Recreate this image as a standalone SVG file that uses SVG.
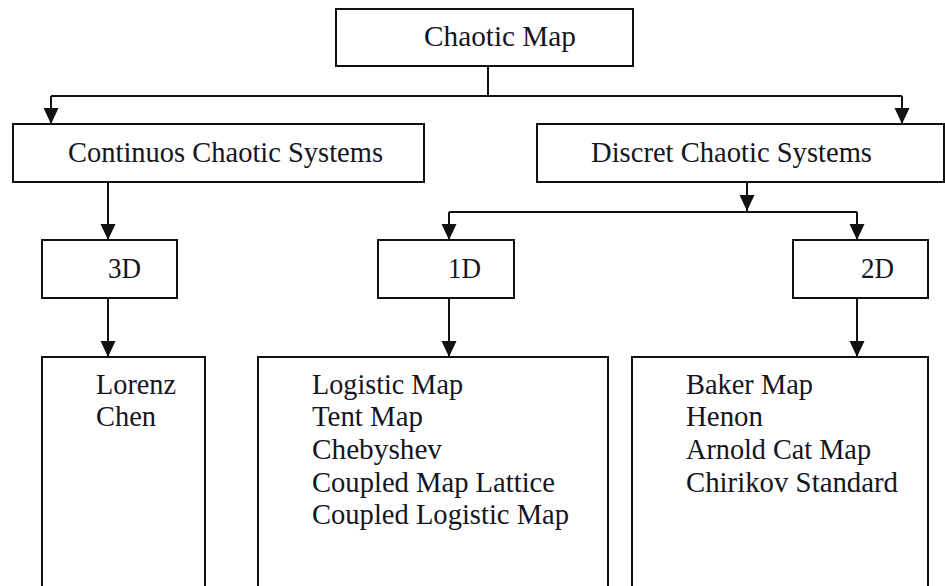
<svg xmlns="http://www.w3.org/2000/svg" width="945" height="586" viewBox="0 0 945 586">
<defs>
<style>
.box{fill:#fff;stroke:#111;stroke-width:2}
.ln{fill:none;stroke:#111;stroke-width:2}
.t{font-family:"Liberation Serif","Times New Roman",serif;font-size:29px;fill:#15151f}
</style>
<marker id="ah" markerUnits="userSpaceOnUse" markerWidth="17" markerHeight="17" viewBox="0 0 17 17" refX="16" refY="8.5" orient="auto">
<path d="M0,1 L16,8.5 L0,16 Z" fill="#111"/>
</marker>
</defs>
<rect width="945" height="586" fill="#fff"/>
<g id="connectors">
<path class="ln" d="M488,66 V96"/>
<path class="ln" d="M51,96 H902"/>
<path class="ln" d="M51,96 V124" marker-end="url(#ah)"/>
<path class="ln" d="M902,96 V124" marker-end="url(#ah)"/>
<path class="ln" d="M108,182 V240" marker-end="url(#ah)"/>
<path class="ln" d="M747,182 V211" marker-end="url(#ah)"/>
<path class="ln" d="M449,212 H857"/>
<path class="ln" d="M449,212 V240" marker-end="url(#ah)"/>
<path class="ln" d="M857,212 V240" marker-end="url(#ah)"/>
<path class="ln" d="M108,298 V357" marker-end="url(#ah)"/>
<path class="ln" d="M449,298 V357" marker-end="url(#ah)"/>
<path class="ln" d="M857,298 V357" marker-end="url(#ah)"/>
</g>
<g id="chaotic-map">
<rect class="box" x="336" y="9" width="297" height="57"/>
<text class="t" x="424" y="46" textLength="152" lengthAdjust="spacingAndGlyphs">Chaotic Map</text>
</g>
<g id="continuous">
<rect class="box" x="13" y="124" width="411" height="58"/>
<text class="t" x="68" y="162" textLength="315" lengthAdjust="spacingAndGlyphs">Continuos Chaotic Systems</text>
</g>
<g id="discrete">
<rect class="box" x="537" y="124" width="407" height="58"/>
<text class="t" x="591" y="162" textLength="281" lengthAdjust="spacingAndGlyphs">Discret Chaotic Systems</text>
</g>
<g id="n3d">
<rect class="box" x="42" y="240" width="135" height="58"/>
<text class="t" x="108" y="278" textLength="33" lengthAdjust="spacingAndGlyphs">3D</text>
</g>
<g id="n1d">
<rect class="box" x="378" y="240" width="136" height="58"/>
<text class="t" x="448" y="278" textLength="33" lengthAdjust="spacingAndGlyphs">1D</text>
</g>
<g id="n2d">
<rect class="box" x="793" y="240" width="135" height="58"/>
<text class="t" x="861" y="278" textLength="33" lengthAdjust="spacingAndGlyphs">2D</text>
</g>
<g id="list3d">
<rect class="box" x="42" y="357" width="163" height="240"/>
<text class="t" x="96" y="394" textLength="80" lengthAdjust="spacingAndGlyphs">Lorenz</text>
<text class="t" x="96" y="426" textLength="60" lengthAdjust="spacingAndGlyphs">Chen</text>
</g>
<g id="list1d">
<rect class="box" x="258" y="357" width="350" height="240"/>
<text class="t" x="312" y="394" textLength="151" lengthAdjust="spacingAndGlyphs">Logistic Map</text>
<text class="t" x="312" y="426" textLength="111" lengthAdjust="spacingAndGlyphs">Tent Map</text>
<text class="t" x="312" y="459" textLength="130" lengthAdjust="spacingAndGlyphs">Chebyshev</text>
<text class="t" x="312" y="492" textLength="243" lengthAdjust="spacingAndGlyphs">Coupled Map Lattice</text>
<text class="t" x="312" y="524" textLength="257" lengthAdjust="spacingAndGlyphs">Coupled Logistic Map</text>
</g>
<g id="list2d">
<rect class="box" x="632" y="357" width="296" height="240"/>
<text class="t" x="686" y="394" textLength="127" lengthAdjust="spacingAndGlyphs">Baker Map</text>
<text class="t" x="686" y="426" textLength="77" lengthAdjust="spacingAndGlyphs">Henon</text>
<text class="t" x="686" y="459" textLength="185" lengthAdjust="spacingAndGlyphs">Arnold Cat Map</text>
<text class="t" x="686" y="492" textLength="212" lengthAdjust="spacingAndGlyphs">Chirikov Standard</text>
</g>
</svg>
